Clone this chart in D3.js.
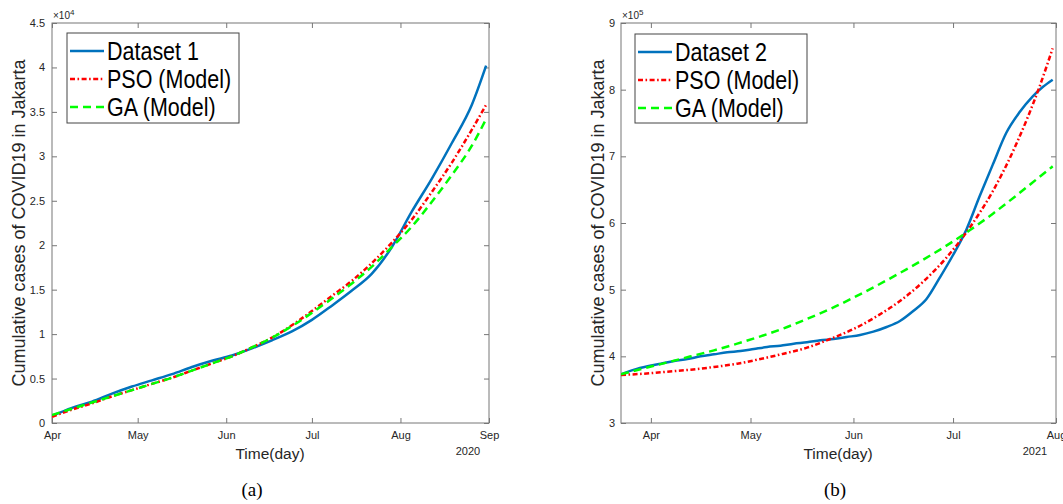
<!DOCTYPE html>
<html>
<head>
<meta charset="utf-8">
<script src="https://cdn.jsdelivr.net/npm/d3@7"></script>
<style>
  html, body { margin: 0; padding: 0; background: #fff; }
  svg { display: block; font-family: "Liberation Sans", Arial, Helvetica, sans-serif; }
</style>
</head>
<body>
<svg id="chart" width="1063" height="504"></svg>
<script>
// ---------------- DATA ----------------
// Panel (a): 2020, day offsets from 1 April 2020, values in units of 10^4 cases
const start1 = "2020-04-01";
const days1 = [0, 7, 14, 21, 28, 35, 42, 49, 56, 63, 70, 77, 84, 91, 98, 105, 112, 119, 126, 133, 140, 147, 152];
const dataset1 = [0.08, 0.17, 0.24, 0.33, 0.41, 0.48, 0.55, 0.63, 0.70, 0.76, 0.84, 0.93, 1.03, 1.16, 1.32, 1.49, 1.68, 1.98, 2.38, 2.75, 3.15, 3.58, 4.02];
const pso1 = [0.07, 0.15, 0.22, 0.30, 0.37, 0.44, 0.51, 0.59, 0.67, 0.75, 0.85, 0.96, 1.10, 1.26, 1.43, 1.60, 1.80, 2.03, 2.29, 2.60, 2.93, 3.30, 3.58];
const ga1 = [0.09, 0.16, 0.23, 0.30, 0.37, 0.44, 0.51, 0.59, 0.67, 0.75, 0.85, 0.96, 1.09, 1.24, 1.40, 1.57, 1.76, 1.98, 2.21, 2.49, 2.79, 3.12, 3.42];
const xTicks1 = ["2020-04-01", "2020-05-01", "2020-06-01", "2020-07-01", "2020-08-01", "2020-09-01"];
const xDomain1 = ["2020-04-01", "2020-09-01"];
const yTicks1 = [0, 0.5, 1, 1.5, 2, 2.5, 3, 3.5, 4, 4.5];
const yDomain1 = [0, 4.5];

// Panel (b): 2021, day offsets from 1 April 2021, values in units of 10^5 cases
const start2 = "2021-04-01";
const days2 = [-9, -5, -1, 3, 7, 11, 15, 19, 23, 27, 31, 35, 39, 43, 47, 51, 55, 59, 63, 67, 71, 75, 79, 83, 87, 91, 95, 99, 103, 107, 111, 115, 118, 121];
const dataset2 = [3.73, 3.80, 3.85, 3.89, 3.93, 3.96, 4.00, 4.03, 4.06, 4.08, 4.11, 4.14, 4.16, 4.19, 4.21, 4.24, 4.26, 4.29, 4.32, 4.37, 4.44, 4.53, 4.68, 4.86, 5.18, 5.52, 5.90, 6.40, 6.88, 7.35, 7.66, 7.90, 8.04, 8.15];
const daysModel2 = [-9, -2, 5, 12, 19, 26, 33, 40, 47, 54, 61, 68, 75, 82, 89, 96, 103, 110, 117, 121];
const pso2 = [3.72, 3.74, 3.77, 3.80, 3.84, 3.89, 3.96, 4.04, 4.13, 4.26, 4.41, 4.60, 4.83, 5.12, 5.48, 5.93, 6.48, 7.18, 8.04, 8.62];
const ga2 = [3.73, 3.82, 3.91, 4.00, 4.09, 4.19, 4.30, 4.42, 4.56, 4.71, 4.88, 5.06, 5.25, 5.45, 5.66, 5.89, 6.14, 6.41, 6.69, 6.85];
const xTicks2 = ["2021-04-01", "2021-05-01", "2021-06-01", "2021-07-01", "2021-08-01"];
const xDomain2 = ["2021-03-23", "2021-08-01"];
const yTicks2 = [3, 4, 5, 6, 7, 8, 9];
const yDomain2 = [3, 9];

const legendLabels1 = ["Dataset 1", "PSO (Model)", "GA (Model)"];
const legendLabels2 = ["Dataset 2", "PSO (Model)", "GA (Model)"];

// ---------------- DRAWING ----------------
const parse = d3.utcParse("%Y-%m-%d");
const svg = d3.select("#chart");

const styles = [
  { color: "#0072BD", dash: null },
  { color: "#FF0000", dash: "5,2.5,1.6,2.5" },
  { color: "#00FF00", dash: "8,5" }
];

function panel(cfg) {
  const { left, right, top, bottom } = cfg;
  const x = d3.scaleUtc().domain(cfg.xDomain.map(parse)).range([left, right]);
  const y = d3.scaleLinear().domain(cfg.yDomain).range([bottom, top]);
  const g = svg.append("g");
  const clipId = "clip" + cfg.id;
  g.append("clipPath").attr("id", clipId).append("rect")
    .attr("x", left).attr("y", top).attr("width", right - left).attr("height", bottom - top);

  const xt = cfg.xTicks.map(parse);
  const axisColor = "#777";
  const labelColor = "#262626";

  function styleAxis(sel) {
    sel.select(".domain").remove();
    sel.selectAll(".tick line").attr("stroke", axisColor).attr("stroke-width", 1);
    sel.selectAll(".tick text").attr("fill", labelColor).style("font-size", "11px")
      .style("font-family", "'Liberation Sans', Arial, sans-serif");
  }
  g.append("g").attr("transform", `translate(0,${bottom})`)
    .call(d3.axisBottom(x).tickValues(xt).tickFormat(d3.utcFormat("%b")).tickSize(-5).tickPadding(8))
    .call(styleAxis);
  g.append("g").attr("transform", `translate(0,${top})`)
    .call(d3.axisTop(x).tickValues(xt).tickFormat("").tickSize(-5))
    .call(styleAxis);
  g.append("g").attr("transform", `translate(${left},0)`)
    .call(d3.axisLeft(y).tickValues(cfg.yTicks).tickFormat(d => String(d)).tickSize(-5).tickPadding(cfg.yPad))
    .call(styleAxis);
  g.append("g").attr("transform", `translate(${right},0)`)
    .call(d3.axisRight(y).tickValues(cfg.yTicks).tickFormat("").tickSize(-5))
    .call(styleAxis);

  // box
  g.append("rect").attr("x", left).attr("y", top).attr("width", right - left).attr("height", bottom - top)
    .attr("fill", "none").attr("stroke", axisColor).attr("stroke-width", 1);

  // lines
  const series = cfg.series;
  const line = d3.line().x(d => x(d[0])).y(d => y(d[1])).curve(d3.curveMonotoneX);
  const lg = g.append("g").attr("clip-path", `url(#${clipId})`);
  series.forEach((s, i) => {
    const start = parse(s.start);
    const pts = s.days.map((dd, k) => [d3.utcDay.offset(start, dd), s.values[k]]);
    lg.append("path").datum(pts).attr("d", line)
      .attr("fill", "none").attr("stroke", styles[i].color).attr("stroke-width", 2.5)
      .attr("stroke-dasharray", styles[i].dash);
  });

  // multiplier
  const m = g.append("text").attr("x", left + 1).attr("y", top - 4).attr("fill", labelColor)
    .style("font-size", "10px");
  m.append("tspan").text("\u00D710");
  m.append("tspan").attr("dy", -4).style("font-size", "8px").text(cfg.exp);

  // axis labels
  g.append("text").attr("x", cfg.xLabelX).attr("y", 459).attr("text-anchor", "middle")
    .attr("fill", labelColor).style("font-size", "15.5px").text("Time(day)");
  g.append("text").attr("x", cfg.yearX).attr("y", 455).attr("text-anchor", "middle")
    .attr("fill", labelColor).style("font-size", "11px").text(cfg.year);
  g.append("text").attr("transform", `translate(${cfg.yLabelX},223) rotate(-90)`).attr("dy", "0.35em")
    .attr("text-anchor", "middle").attr("fill", labelColor).style("font-size", "18px")
    .text("Cumulative cases of COVID19 in Jakarta");
  g.append("text").attr("x", cfg.capX).attr("y", 496).attr("text-anchor", "middle")
    .attr("fill", "#000").style("font-size", "19px").style("font-family", "'Liberation Serif', 'Times New Roman', serif")
    .text(cfg.caption);

  // legend
  const L = cfg.legend;
  g.append("rect").attr("x", L.x).attr("y", L.y).attr("width", L.w).attr("height", L.h)
    .attr("fill", "#fff").attr("stroke", "#444").attr("stroke-width", 1);
  cfg.legendLabels.forEach((lab, i) => {
    const cy = L.y + 18 + i * 28;
    g.append("line").attr("x1", L.x + 3).attr("x2", L.x + 37).attr("y1", cy).attr("y2", cy)
      .attr("stroke", styles[i].color).attr("stroke-width", 2.5).attr("stroke-dasharray", styles[i].dash);
    g.append("text").attr("transform", `translate(${L.x + 40},${cy + 9}) scale(0.86,1)`)
      .attr("fill", "#000").style("font-size", "25px").text(lab);
  });
}

panel({
  id: 1, left: 52, right: 489, top: 23, bottom: 423,
  xDomain: xDomain1, xTicks: xTicks1, yDomain: yDomain1, yTicks: yTicks1, yPad: 7,
  exp: "4", xLabelX: 270, yearX: 468, year: "2020", yLabelX: 19, capX: 252, caption: "(a)",
  legend: { x: 67, y: 33, w: 172, h: 90 }, legendLabels: legendLabels1,
  series: [
    { start: start1, days: days1, values: dataset1 },
    { start: start1, days: days1, values: pso1 },
    { start: start1, days: days1, values: ga1 }
  ]
});

panel({
  id: 2, left: 621, right: 1056, top: 23, bottom: 423,
  xDomain: xDomain2, xTicks: xTicks2, yDomain: yDomain2, yTicks: yTicks2, yPad: 6,
  exp: "5", xLabelX: 838, yearX: 1035, year: "2021", yLabelX: 598, capX: 835, caption: "(b)",
  legend: { x: 635, y: 34, w: 172, h: 89 }, legendLabels: legendLabels2,
  series: [
    { start: start2, days: days2, values: dataset2 },
    { start: start2, days: daysModel2, values: pso2 },
    { start: start2, days: daysModel2, values: ga2 }
  ]
});
</script>
</body>
</html>
